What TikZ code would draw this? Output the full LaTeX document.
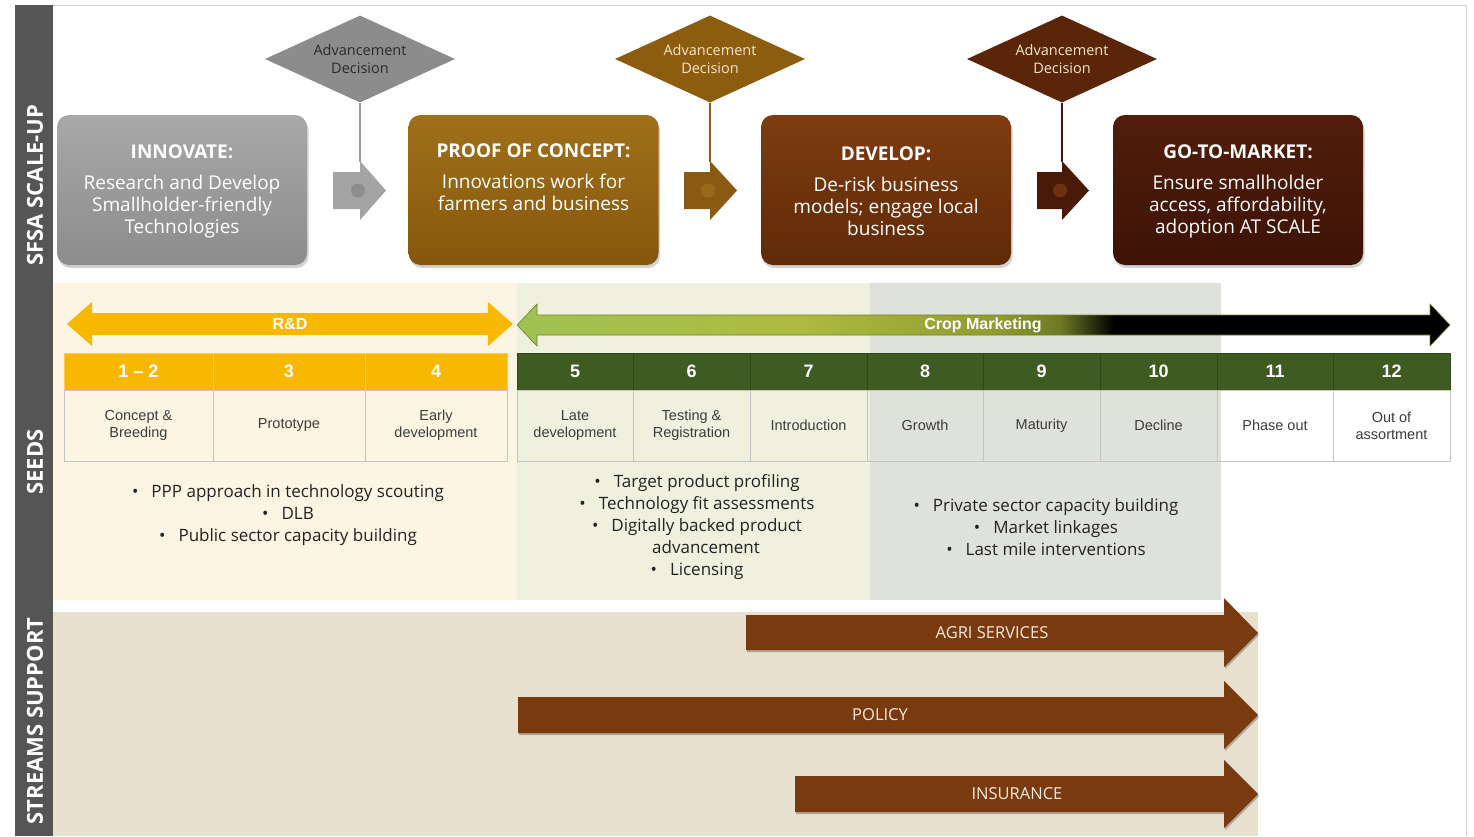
\documentclass[tikz,border=0pt]{standalone}
\usepackage{fontspec}
\setmainfont{Open Sans}
\newfontfamily\arialfont{Liberation Sans}
\usetikzlibrary{shapes.geometric,shadows}

\definecolor{barGray}{HTML}{555555}
\definecolor{frameLine}{HTML}{D4D4D4}
\definecolor{rdBand}{HTML}{FDF5E4}
\definecolor{cropBand}{HTML}{EFF1DE}
\definecolor{grayBand}{HTML}{DFE1DB}
\definecolor{streamBand}{HTML}{E7E0CE}
\definecolor{gold}{HTML}{F9B800}
\definecolor{goldSep}{HTML}{F6CC52}
\definecolor{hdrGreen}{HTML}{3E5B22}
\definecolor{greenSep}{HTML}{2F4818}
\definecolor{cellline}{HTML}{C4C4C4}
\definecolor{celltext}{HTML}{3C3C3C}
\definecolor{bullettext}{HTML}{222222}
\definecolor{brownArrow}{HTML}{7A3A10}
\definecolor{streamtext}{HTML}{F6EBDD}
\definecolor{innovT}{HTML}{A8A8A8}
\definecolor{innovB}{HTML}{8C8C8C}
\definecolor{proofT}{HTML}{A0701A}
\definecolor{proofB}{HTML}{85570B}
\definecolor{devT}{HTML}{7E3C10}
\definecolor{devB}{HTML}{602A08}
\definecolor{gtmT}{HTML}{521D0B}
\definecolor{gtmB}{HTML}{3C1306}
\definecolor{dia1}{HTML}{8C8C8C}
\definecolor{dia2}{HTML}{8C5D0F}
\definecolor{dia3}{HTML}{5A2508}
\definecolor{arr1}{HTML}{A4A4A4}
\definecolor{arr2}{HTML}{8A5A12}
\definecolor{arr3}{HTML}{4A1A08}
\definecolor{dot1}{HTML}{8E8E8E}
\definecolor{dot2}{HTML}{9A6A1C}
\definecolor{dot3}{HTML}{6A3212}
\definecolor{line1}{HTML}{9A9A9A}
\definecolor{line2}{HTML}{8C5D0F}
\definecolor{line3}{HTML}{4A1A08}
\definecolor{diaTextA}{HTML}{2A2A2A}
\definecolor{diaTextB}{HTML}{F5E6C8}
\definecolor{cmL}{HTML}{A0C253}
\definecolor{cmMa}{HTML}{AEBB3E}
\definecolor{cmM}{HTML}{8E9C30}
\definecolor{cmD}{HTML}{6E7A24}
\definecolor{cmEdge}{HTML}{6F8030}

\pgfdeclarehorizontalshading{cropshade}{100bp}{color(0bp)=(cmL); color(25bp)=(cmL); color(40bp)=(cmMa); color(50.9bp)=(cmM); color(54.1bp)=(cmD); color(57bp)=(black); color(100bp)=(black)}

\begin{document}
\begin{tikzpicture}[x=1pt,y=-1pt,
  stagebox/.style={rounded corners=12pt, minimum width=250pt, minimum height=150pt, inner sep=0pt,
    drop shadow={shadow xshift=1.5pt,shadow yshift=-3pt,opacity=0.25,fill=black!70}},
  boxtext/.style={text=white, align=center, font=\fontsize{19}{22}\selectfont},
  decision/.style={diamond, aspect=2.18, minimum width=190pt, minimum height=87pt, inner sep=0pt, align=center,
    font=\fontsize{14.5}{18}\selectfont},
  hdr/.style={minimum height=37pt, inner sep=0pt, text=white, line width=0.8pt,
    font=\arialfont\bfseries\fontsize{18}{20}\selectfont},
  cell/.style={draw=cellline, line width=0.8pt, minimum height=71pt, inner sep=0pt, align=center,
    text=celltext, font=\arialfont\fontsize{14.5}{17}\selectfont},
  bullets/.style={align=center, text=bullettext, font=\fontsize{17}{22}\selectfont},
  sidelabel/.style={rotate=90, text=white, font=\bfseries\fontsize{22}{24}\selectfont},
  streamtext/.style={text=streamtext, font=\fontsize{16.5}{18}\selectfont},
  arrowtext/.style={text=white, font=\arialfont\bfseries\fontsize{16}{18}\selectfont},
  gate/.style={line width=1.5pt},
  streamarrow/.style={fill=brownArrow, drop shadow={shadow xshift=1pt,shadow yshift=-2pt,opacity=0.25,fill=black}},
]
\useasboundingbox (0,0) rectangle (1474,836);
\fill[white] (0,0) rectangle (1474,836);

% frame and side bar
\draw[frameLine, line width=1pt] (53,5) -- (1466,5) -- (1466,836);
\fill[barGray] (15,5) rectangle (53,836);
\node[sidelabel] (lab1) at (35,185) {SFSA SCALE-UP};
\node[sidelabel] (lab2) at (35,462) {SEEDS};
\node[sidelabel] (lab3) at (35,721) {STREAMS SUPPORT};

% bands
\fill[rdBand] (53,283) rectangle (517,600);
\fill[cropBand] (517,283) rectangle (870,600);
\fill[grayBand] (870,283) rectangle (1221,600);
\fill[streamBand] (53,612) rectangle (1258,836);

% decisions and gate arrows
\node[decision, fill=dia1, text=diaTextA] (d1) at (360,59) {Advancement\\Decision};
\node[decision, fill=dia2, text=diaTextB] (d2) at (710,59) {Advancement\\Decision};
\node[decision, fill=dia3, text=diaTextB] (d3) at (1062,59) {Advancement\\Decision};
\coordinate (g1) at (360,162);
\coordinate (g2) at (710,162);
\coordinate (g3) at (1062,162);
\draw[gate, draw=line1] (d1.south) -- (g1);
\draw[gate, draw=line2] (d2.south) -- (g2);
\draw[gate, draw=line3] (d3.south) -- (g3);
\fill[arr1] (333,172) -- (360,172) -- (360,161) -- (386,190.5) -- (360,220) -- (360,209) -- (333,209) -- cycle;
\fill[dot1] (358,190.5) circle[radius=7pt];
\fill[arr2] (684,172) -- (710,172) -- (710,161) -- (737,190.5) -- (710,220) -- (710,209) -- (684,209) -- cycle;
\fill[dot2] (708,190.5) circle[radius=7pt];
\fill[arr3] (1037,172) -- (1062,172) -- (1062,161) -- (1089,190.5) -- (1062,220) -- (1062,209) -- (1037,209) -- cycle;
\fill[dot3] (1060,190.5) circle[radius=7pt];

% stage boxes
\node[stagebox, top color=innovT, bottom color=innovB] (innov) at (182,190) {};
\node[boxtext] (innovtxt) at (182,191) {{\bfseries INNOVATE:}\\[9pt]Research and Develop\\Smallholder-friendly\\Technologies};
\node[stagebox, top color=proofT, bottom color=proofB] (proof) at (533.5,190) {};
\node[boxtext] (prooftxt) at (533.5,177) {{\bfseries PROOF OF CONCEPT:}\\[9pt]Innovations work for\\farmers and business};
\node[stagebox, top color=devT, bottom color=devB] (dev) at (886,190) {};
\node[boxtext] (devtxt) at (886,191) {{\bfseries DEVELOP:}\\[9pt]De-risk business\\models; engage local\\business};
\node[stagebox, top color=gtmT, bottom color=gtmB] (gtm) at (1238,190) {};
\node[boxtext] (gtmtxt) at (1238,191) {{\bfseries GO-TO-MARKET:}\\[9pt]Ensure smallholder\\access, affordability,\\adoption AT SCALE};

% R&D double arrow
\fill[gold] (67,324) -- (92,302) -- (92,313) -- (488,313) -- (488,302) -- (513,324)
  -- (488,346) -- (488,335) -- (92,335) -- (92,346) -- cycle;
\node[arrowtext] (rd) at (290,324) {R\&D};
% Crop marketing double arrow
\shade[shading=cropshade, draw=cmEdge, line width=0.6pt] (517,325) -- (537,304) -- (537,315) -- (1430,315) -- (1430,304) -- (1450,325)
  -- (1430,346) -- (1430,335) -- (537,335) -- (537,346) -- cycle;
\node[arrowtext] (cm) at (983,325) {Crop Marketing};

% stages
\foreach \i/\l/\r/\hc/\hs/\num/\lab in {
  1/64/213/gold/goldSep/{1 – 2}/{Concept \&\\Breeding},
  2/213/365/gold/goldSep/3/Prototype,
  3/365/507/gold/goldSep/4/{Early\\development},
  4/517/633/hdrGreen/greenSep/5/{Late\\development},
  5/633/750/hdrGreen/greenSep/6/{Testing \&\\Registration},
  6/750/867/hdrGreen/greenSep/7/Introduction,
  7/867/983/hdrGreen/greenSep/8/Growth,
  8/983/1100/hdrGreen/greenSep/9/Maturity,
  9/1100/1217/hdrGreen/greenSep/10/Decline,
  10/1217/1333/hdrGreen/greenSep/11/Phase out,
  11/1333/1450/hdrGreen/greenSep/12/{Out of\\assortment}} {
  \pgfmathsetmacro\w{\r-\l}
  \pgfmathsetmacro\cx{(\l+\r)/2}
  \node[hdr, fill=\hc, draw=\hs, minimum width=\w pt] (h\i) at (\cx,371.5) {\num};
  \node[cell, minimum width=\w pt] (c\i) at (\cx,425.5) {\lab};
}

% bullet texts
\node[bullets] (b1) at (288,515) {\textbullet\hspace{13pt}PPP approach in technology scouting\\\textbullet\hspace{13pt}DLB\\\textbullet\hspace{13pt}Public sector capacity building};
\node[bullets] (b2) at (697,527) {\textbullet\hspace{13pt}Target product profiling\\\textbullet\hspace{13pt}Technology fit assessments\\\textbullet\hspace{13pt}Digitally backed product\\\hspace{18pt}advancement\\\textbullet\hspace{13pt}Licensing};
\node[bullets] (b3) at (1046,527) {\textbullet\hspace{13pt}Private sector capacity building\\\textbullet\hspace{13pt}Market linkages\\\textbullet\hspace{13pt}Last mile interventions};

% streams
\path[streamarrow] (746,615) -- (1224,615) -- (1224,598) -- (1258,633) -- (1224,667) -- (1224,650) -- (746,650) -- cycle;
\node[streamtext] (agri) at (992,633) {AGRI SERVICES};
\path[streamarrow] (518,697) -- (1224,697) -- (1224,681) -- (1258,715) -- (1224,749) -- (1224,733) -- (518,733) -- cycle;
\node[streamtext] (policy) at (880,715) {POLICY};
\path[streamarrow] (795,776) -- (1224,776) -- (1224,760) -- (1258,794) -- (1224,828) -- (1224,812) -- (795,812) -- cycle;
\node[streamtext] (ins) at (1017,794) {INSURANCE};
\end{tikzpicture}
\end{document}
